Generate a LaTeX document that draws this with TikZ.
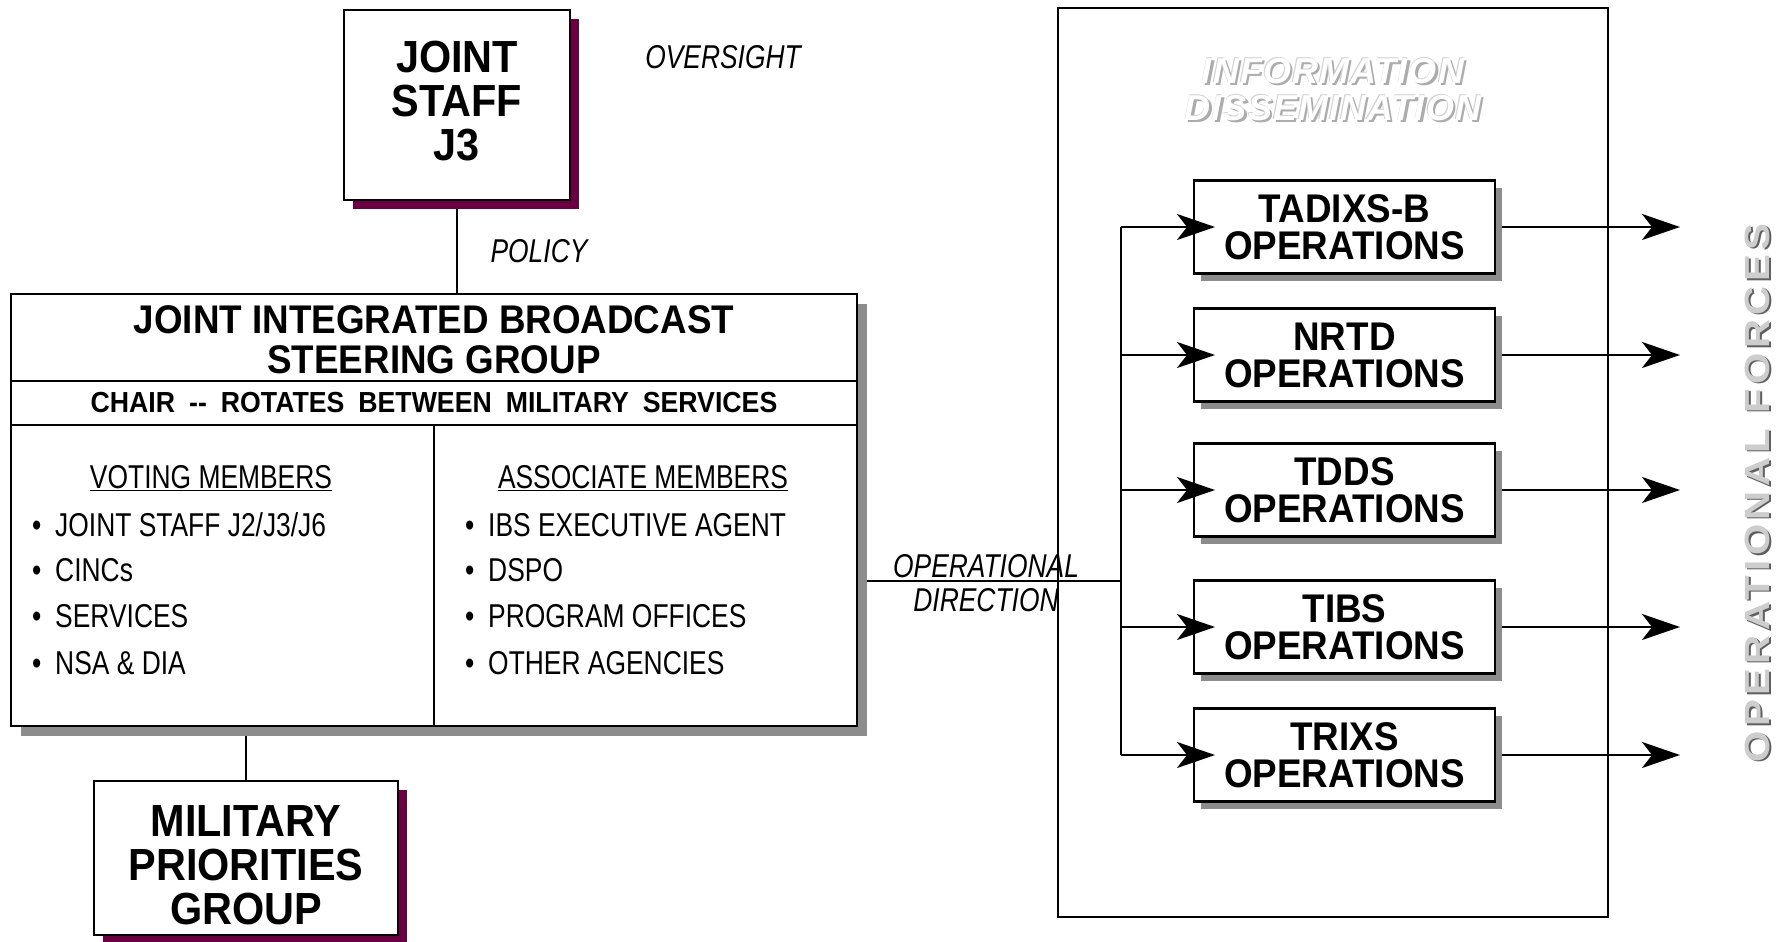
\documentclass[tikz,border=0pt]{standalone}
\usepackage{fontspec}
\setmainfont{Liberation Sans}
\newfontfamily\narrowfont[FakeStretch=0.8]{Liberation Sans}
\newfontfamily\condfont[FakeStretch=0.92]{Liberation Sans}
\newfontfamily\spacedfont[FakeStretch=1.15,LetterSpace=12.5]{Liberation Sans}
\newfontfamily\infofont[LetterSpace=3]{Liberation Sans}
\usetikzlibrary{arrows.meta,shadows,backgrounds}
\definecolor{maroon}{RGB}{106,0,66}
\definecolor{shadowgray}{RGB}{140,140,140}
\definecolor{forcegray}{RGB}{205,205,205}
\definecolor{forcedark}{RGB}{95,95,95}
\begin{document}
\begin{tikzpicture}[x=1pt,y=-1pt,
  every node/.style={inner sep=0pt, outer sep=0pt},
  frame/.style={draw, line width=2.6pt, fill=white, align=center},
  mshadow/.style={drop shadow={shadow xshift=9pt, shadow yshift=-9pt, fill=maroon, opacity=1}},
  gshadow/.style={drop shadow={shadow xshift=#1, shadow yshift=-#1, fill=shadowgray, opacity=1}},
  bigbold/.style={font=\condfont\fontsize{45}{44}\selectfont\bfseries},
  opsbox/.style={frame, gshadow=7pt, minimum width=301pt, minimum height=93pt, font=\condfont\fontsize{40}{37}\selectfont\bfseries},
  narrowtxt/.style={font=\narrowfont\fontsize{33}{34}\selectfont, anchor=base west},
  headtxt/.style={font=\narrowfont\fontsize{33}{34}\selectfont, anchor=base},
  italtxt/.style={font=\narrowfont\itshape\fontsize{33}{34}\selectfont, anchor=base},
  conn/.style={line width=2pt},
  arr/.style={line width=2pt, -{Stealth[length=38pt, width=26pt, inset=10pt]}},
  infotxt/.style={font=\infofont\bfseries\itshape\fontsize{36}{37}\selectfont, align=center},
  forcetxt/.style={font=\spacedfont\bfseries\fontsize{35}{36}\selectfont, rotate=90},
]
\useasboundingbox (0,0) rectangle (1788,942);

% main boxes
\node[frame, mshadow, bigbold, minimum width=226pt, minimum height=190pt, text depth=8pt] (j3) at (457,105) {JOINT\\STAFF\\J3};
\node[frame, gshadow=10pt, minimum width=846pt, minimum height=432pt] (jibsg) at (434,510) {};
\node[frame, mshadow, bigbold, minimum width=304pt, minimum height=154pt] (mpg) at (246,858) {\rule{0pt}{46pt}MILITARY\\PRIORITIES\\GROUP};

% sections of the steering group box
\coordinate (r1) at (0,381);
\coordinate (r2) at (0,425);
\draw[line width=2.6pt] (jibsg.west |- r1) -- (jibsg.east |- r1);
\draw[line width=2.6pt] (jibsg.west |- r2) -- (jibsg.east |- r2);
\draw[line width=2.2pt] (jibsg.center |- r2) -- (jibsg.south);

\node[font=\condfont\fontsize{40}{40}\selectfont\bfseries, align=center] (title) at (434,340) {JOINT INTEGRATED BROADCAST\\STEERING GROUP};
\node[font=\condfont\fontsize{29}{30}\selectfont\bfseries] (chair) at (434,403) {CHAIR\hspace{14pt}-{}-\hspace{14pt}ROTATES\hspace{14pt}BETWEEN\hspace{14pt}MILITARY\hspace{14pt}SERVICES};

\node[headtxt] (vote) at (211,488) {\underline{VOTING MEMBERS}};
\node[headtxt] (assoc) at (643,488) {\underline{ASSOCIATE MEMBERS}};

\node[narrowtxt] (v1) at (32,536) {\textbullet\hspace{14pt}JOINT STAFF J2/J3/J6};
\node[narrowtxt] (v2) at (32,581) {\textbullet\hspace{14pt}CINCs};
\node[narrowtxt] (v3) at (32,627) {\textbullet\hspace{14pt}SERVICES};
\node[narrowtxt] (v4) at (32,674) {\textbullet\hspace{14pt}NSA \& DIA};
\node[narrowtxt] (a1) at (465,536) {\textbullet\hspace{14pt}IBS EXECUTIVE AGENT};
\node[narrowtxt] (a2) at (465,581) {\textbullet\hspace{14pt}DSPO};
\node[narrowtxt] (a3) at (465,627) {\textbullet\hspace{14pt}PROGRAM OFFICES};
\node[narrowtxt] (a4) at (465,674) {\textbullet\hspace{14pt}OTHER AGENCIES};

% labels
\node[italtxt] (oversight) at (723,68) {OVERSIGHT};
\node[italtxt] (policy) at (539,262) {POLICY};
\node[italtxt] (od1) at (986,577) {OPERATIONAL};
\node[italtxt] (od2) at (986,611) {DIRECTION};

% information dissemination frame
\node[draw, line width=2.4pt, minimum width=550pt, minimum height=909pt] (info) at (1333,462.5) {};
\node[infotxt, text=gray!65] (infosh) at (1335.5,92) {INFORMATION\\DISSEMINATION};
\node[infotxt, text=gray!35] (infool) at (1332.2,88.7) {INFORMATION\\DISSEMINATION};
\node[infotxt, text=white] (infotx) at (1333,89.5) {INFORMATION\\DISSEMINATION};

% operations boxes
\node[opsbox] (tadix) at (1344.5,227) {TADIXS-B\\OPERATIONS};
\node[opsbox] (nrtd) at (1344.5,355) {NRTD\\OPERATIONS};
\node[opsbox] (tdds) at (1344.5,490) {TDDS\\OPERATIONS};
\node[opsbox] (tibs) at (1344.5,627) {TIBS\\OPERATIONS};
\node[opsbox] (trixs) at (1344.5,755) {TRIXS\\OPERATIONS};

% operational forces
\node[forcetxt, text=forcedark] (forcesh) at (1759,494.5) {OPERATIONAL FORCES};
\node[forcetxt, text=forcegray] (forces) at (1757,493) {OPERATIONAL FORCES};

% connectors
\coordinate (bt) at (1121,227);
\coordinate (bb) at (1121,755);
\coordinate (od) at (1121,581);
\coordinate (outx) at (1680,0);

\begin{scope}[on background layer]
\fill[white] (0,0) rectangle (1788,942);
\draw[conn] (j3.south) -- (j3.south |- jibsg.north);
\draw[conn] (mpg.north) -- (mpg.north |- jibsg.south);
\draw[conn] (jibsg.east |- od) -- (od);
\draw[arr] (tadix.east) -- (tadix.east -| outx);
\draw[arr] (nrtd.east) -- (nrtd.east -| outx);
\draw[arr] (tdds.east) -- (tdds.east -| outx);
\draw[arr] (tibs.east) -- (tibs.east -| outx);
\draw[arr] (trixs.east) -- (trixs.east -| outx);
\end{scope}

\draw[conn] (bt) -- (bb);
\draw[arr] (bt) -- ([xshift=21pt]tadix.west);
\draw[arr] (bt |- nrtd.west) -- ([xshift=21pt]nrtd.west);
\draw[arr] (bt |- tdds.west) -- ([xshift=21pt]tdds.west);
\draw[arr] (bt |- tibs.west) -- ([xshift=21pt]tibs.west);
\draw[arr] (bb) -- ([xshift=21pt]trixs.west);
\end{tikzpicture}
\end{document}
